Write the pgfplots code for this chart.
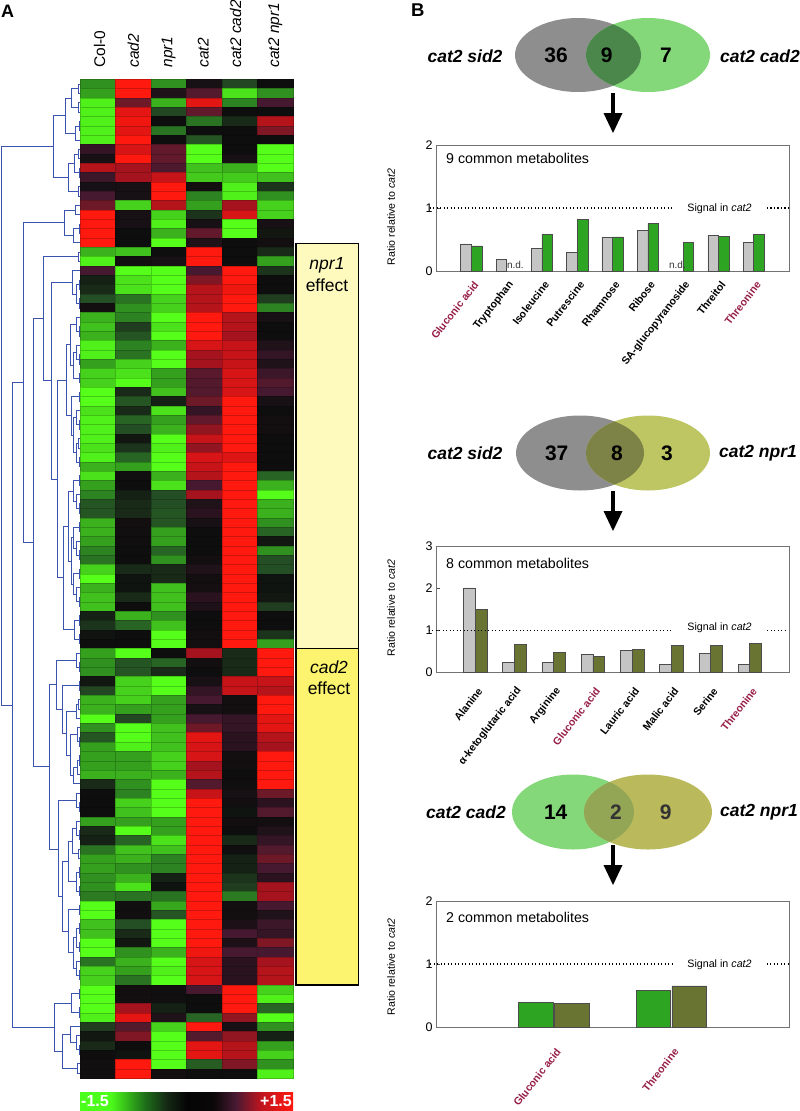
\documentclass[border=0pt]{standalone}
\usepackage{fontspec}
\setmainfont{Liberation Sans}
\usepackage{pgfplots}
\usepackage{pgfplotstable}
\pgfplotsset{compat=1.18}

\definecolor{crim}{RGB}{150,30,70}
\definecolor{dendro}{RGB}{58,84,175}
\definecolor{barg}{RGB}{197,197,197}
\definecolor{bargreen}{RGB}{45,165,35}
\definecolor{barolive}{RGB}{105,115,50}
\definecolor{vgrey}{RGB}{142,142,142}
\definecolor{vgreen}{RGB}{132,216,122}
\definecolor{volive}{RGB}{190,198,100}
\definecolor{volivetwo}{RGB}{186,186,92}
\definecolor{vmixa}{RGB}{75,135,75}
\definecolor{vmixb}{RGB}{125,130,70}
\definecolor{vmixc}{RGB}{146,166,86}
\definecolor{boxpale}{RGB}{254,250,190}
\definecolor{boxyel}{RGB}{252,243,110}

% one heat map cell: 35.5 x 9.34 px
\pgfdeclareplotmark{cell}{%
  \pgfpathrectangle{\pgfpoint{-17.75pt}{-4.67pt}}{\pgfpoint{35.5pt}{9.34pt}}%
  \pgfusepathqfillstroke}

\pgfdeclarehorizontalshading{cbar}{100bp}{%
  rgb(0bp)=(0.25,1,0.12);
  rgb(32bp)=(0.3,1,0.1);
  rgb(40bp)=(0.12,0.45,0.1);
  rgb(45.3bp)=(0.08,0.16,0.08);
  rgb(50bp)=(0.02,0.02,0.02);
  rgb(56.2bp)=(0.04,0.03,0.03);
  rgb(61.5bp)=(0.28,0.1,0.2);
  rgb(67.5bp)=(0.75,0.08,0.12);
  rgb(75bp)=(1,0.1,0.06);
  rgb(100bp)=(1,0.1,0.06)}

\pgfplotstableread{
r c0 c1 c2 c3 c4 c5
1 -0.8 1.5 -0.8 0.05 -0.3 0
2 -0.9 1.5 0.1 0.4 -1.3 -0.8
3 -1.4 0.6 -1.0 1.3 -0.7 0.3
4 -1.4 1.3 -0.3 0.5 0 0
5 -1.4 1.4 0 -0.6 -0.15 1.0
6 -1.4 1.3 -0.6 0 0 0.7
7 -1.4 1.5 0 -0.4 0 0
8 0.2 1.2 0.5 -1.5 0 -1.5
9 0.05 1.5 0.5 -1.5 0.05 -1.5
10 1.0 0.9 0.35 -1.1 -1.0 -1.5
11 0.25 0.9 1.1 -1.15 -1.15 -1.1
12 0.05 0.05 1.5 0.03 -1.4 -0.2
13 0.3 0.05 1.5 -0.7 -1.4 -0.8
14 0.6 -1.2 1.0 -0.9 0.9 -1.2
15 1.5 0.05 -1.2 -0.2 1.2 -1.2
16 1.5 0.05 -1.4 0.05 -1.5 0.05
17 1.5 0 -1.0 0.5 -1.5 -0.05
18 1.5 0 -1.5 0.1 0 0.03
19 -1.0 -1.1 0 1.5 0 -0.15
20 -1.4 0.02 0.05 1.5 0 -0.9
21 0.3 -1.5 -1.5 0.3 1.5 -0.2
22 -0.1 -1.3 -1.5 0.7 1.5 0
23 -0.15 -1.3 -1.5 1.0 1.4 0
24 -0.35 -0.6 -1.2 1.0 1.5 -0.25
25 0.03 -0.8 -1.2 1.0 1.5 -0.7
26 -1.0 -0.7 -1.5 1.5 1.0 0.05
27 -1.1 -0.25 -1.3 1.5 1.0 0
28 -1.0 -0.4 -1.5 1.5 0.9 0
29 -1.4 -0.7 -1.0 1.2 1.1 0.1
30 -1.4 -0.6 -1.5 0.9 1.1 0.2
31 -0.9 -1.2 -1.5 0.9 1.1 0.1
32 -1.2 -1.3 -0.9 0.45 1.2 0.25
33 -1.2 -1.5 -0.9 0.4 1.2 0.4
34 -1.5 -0.15 -1.1 0.4 1.2 0.3
35 -1.5 -0.4 -0.1 0.6 1.5 0.05
36 -1.3 -0.15 -1.3 0.2 1.5 0
37 -1.4 -0.5 -0.9 0.5 1.5 0.03
38 -1.4 -0.35 -1.0 0.8 1.5 0.03
39 -1.4 -0.05 -1.5 1.1 1.5 0
40 -1.3 -0.2 -1.4 0.8 1.5 0
41 -1.4 -0.5 -1.5 1.2 1.25 0
42 -1.0 -0.9 -1.5 1.1 1.5 0
43 -1.3 0.02 -1.0 1.0 1.5 -0.5
44 -0.9 0 -1.3 0.3 1.5 -1.0
45 -0.7 -0.1 -0.35 0.9 1.5 -1.5
46 -0.4 -0.15 -0.35 0.1 1.5 -1.0
47 -0.4 -0.15 -0.4 0.15 1.5 -1.0
48 -1.0 0.03 -0.4 0.05 1.5 -0.8
49 -1.0 0.02 -0.9 0 1.5 -0.5
50 -0.9 0.01 -0.9 0 1.5 -0.05
51 -0.7 0 -0.5 0 1.5 -0.8
52 -0.6 0 -0.8 0.03 1.5 -0.35
53 -1.2 -0.15 -0.15 0.1 1.5 -0.35
54 -1.5 -0.03 -0.15 0.03 1.5 -0.03
55 -1.0 -0.03 -1.1 0.04 1.5 -0.03
56 -1.1 -0.15 -1.1 0.15 1.5 -0.05
57 -1.1 0 -1.1 0.08 1.5 -0.25
58 -0.1 -1.0 -0.8 0 1.5 0
59 -0.2 -0.5 -1.1 0 1.5 0
60 -0.03 0 -1.5 0.03 1.5 -0.2
61 0 0 -1.5 0.03 1.5 -0.9
62 -0.9 -1.5 0 0.9 -0.15 1.5
63 -0.8 -0.4 -0.5 0.03 -0.15 1.5
64 -0.8 -0.4 -0.15 0 -0.15 1.5
65 -0.05 -1.2 -1.5 0.05 1.1 1.1
66 -0.3 -1.2 -1.5 0.2 1.1 1.0
67 -1.0 -1.2 -0.9 0.3 0.03 1.5
68 -1.0 -0.9 -0.9 0.05 0.03 1.5
69 -1.5 -0.3 -0.9 0.3 0.2 1.3
70 -0.8 -1.5 -1.1 0.6 0.2 1.3
71 -0.4 -1.5 -1.1 1.3 0.15 1.0
72 -0.9 -1.4 -1.1 1.2 0.15 0.9
73 -0.9 -0.9 -1.2 1.2 0.03 1.5
74 -0.9 -0.9 -1.2 0.9 0.02 1.5
75 -1.0 -1.0 -1.0 1.0 0 1.5
76 -0.15 -0.8 -1.5 0.4 0.01 1.5
77 0 -0.7 -1.5 1.1 0.05 0.6
78 0 -1.2 -1.5 1.5 0.03 0.15
79 0 -1.1 -1.5 1.5 -0.03 0.4
80 -0.9 -0.9 -0.9 1.5 0.03 0.03
81 -0.15 -1.5 -0.9 1.5 0 0.1
82 -0.1 -0.5 -1.3 1.5 -0.15 0.2
83 -0.6 -1.1 -1.1 1.5 0.01 0.4
84 -0.9 -1.0 -0.7 1.5 -0.1 0.6
85 -0.9 -0.8 -0.7 1.5 -0.1 0.3
86 -0.8 -1.0 -0.1 1.5 -0.2 0.15
87 -0.8 -1.3 -0.03 1.5 -0.25 0.9
88 -0.65 -0.6 -0.6 1.5 -0.65 0.9
89 -1.5 0.02 -0.95 1.5 0.03 0.3
90 -1.5 0.02 -0.4 1.5 0.03 0.1
91 -1.1 -0.35 -1.5 1.5 0.08 0.25
92 -1.1 -0.15 -1.5 1.5 0.3 0.2
93 -1.5 -0.05 -1.5 1.5 0.08 0.7
94 -1.5 -0.8 -1.0 1.4 0.3 0.3
95 -0.6 -1.0 -1.5 1.2 0.15 0.9
96 -1.2 -0.9 -1.4 1.2 0.15 1.0
97 -1.2 -0.6 -1.5 1.2 0.15 1.0
98 -1.5 0.03 0.02 0.3 1.5 -1.2
99 -1.5 0.03 0.02 0 1.5 -1.4
100 -1.5 0.9 -0.1 0 1.5 -0.5
101 -1.4 1.3 0.1 -0.5 0.8 -1.5
102 -0.25 0.4 -1.2 1.5 0.05 -0.8
103 -0.05 0.7 -1.5 0.4 0.8 -0.1
104 -0.15 0 -1.5 1.3 1.0 -0.9
105 0 -0.03 -1.5 1.3 1.0 -1.2
106 0.02 1.5 -1.5 -0.45 0.7 -0.8
107 0.02 1.5 0.03 0 0 -1.4
}\heat

\pgfplotsset{
  ratioaxis/.style={
    scale only axis, width=353pt, height=126pt, anchor=south west,
    clip=false, ymin=0, axis line style={draw=black!55},
    tick style={draw=black!70}, major x tick style={draw=none},
    xtick pos=lower, ytick pos=left,
    /pgf/number format/assume math mode=true,
    yticklabel style={font=\fontsize{12.5}{14}\selectfont},
    xticklabel style={font=\fontsize{10.6}{13}\selectfont\bfseries,xshift=7pt,rotate=52,anchor=east},
    ylabel={Ratio relative to \textit{cat2}},
    ylabel style={font=\fontsize{10.6}{12}\selectfont,anchor=center},
  },
  barleft/.style={ybar,bar width=#1,bar shift=-#1/2,fill=barg,draw=black!70,line width=0.6pt},
  sigline/.style={sharp plot,black,line width=1.2pt,dash pattern=on 1.3pt off 2.2pt},
}

\begin{document}
\begin{tikzpicture}
\path[use as bounding box] (0pt,0pt) rectangle (800pt,-1111pt);
% heat map
\begin{axis}[name=heat,scale only axis,width=213pt,height=999pt,at={(80pt,-1078pt)},anchor=south west,
  xmin=0,xmax=6,ymin=0,ymax=107,y dir=reverse,
  axis line style={draw=none},tick style={draw=none},ytick=\empty,
  xtick={0.55,1.5,2.5,3.47,4.38,5.5},xticklabel pos=upper,xticklabel shift=8pt,
  xticklabels={Col-0,\textit{cad2},\textit{npr1},\textit{cat2},\textit{cat2 cad2},\textit{cat2 npr1}},
  xticklabel style={rotate=90,anchor=west,font=\fontsize{15.5}{18}\selectfont},
  point meta min=-1.5,point meta max=1.5,
  colormap={hm}{rgb255=(85,255,25) rgb255=(70,210,28) rgb255=(52,160,30) rgb255=(42,115,35) rgb255=(35,70,35) rgb255=(14,14,14) rgb255=(70,25,48) rgb255=(110,25,40) rgb255=(165,20,30) rgb255=(215,20,22) rgb255=(255,25,15)},
]
\pgfplotsinvokeforeach{0,...,5}{
  \addplot[scatter,only marks,mark=cell,scatter src=explicit,mark options={line width=0.15pt}]
    table[x expr={#1+0.5},y expr={\thisrow{r}-0.5},meta=c#1]{\heat};
}
\end{axis}

% dendrogram, in picture pixels
\begin{axis}[scale only axis,width=80pt,height=999pt,at={(0pt,-1078pt)},anchor=south west,
  xmin=0,xmax=80,ymin=79,ymax=1078,y dir=reverse,hide axis,clip=false]
\addplot[dendro,line width=1pt,unbounded coords=jump,mark=none] coordinates {
(80,84)(78,84)(78,93.3)(80,93.3)(nan,nan)
(80,102.7)(78,102.7)(78,112)(80,112)(nan,nan)
(78,88.7)(71,88.7)(71,107.4)(78,107.4)(nan,nan)
(80,121.3)(79,121.3)(79,130.7)(80,130.7)(nan,nan)
(79,126)(75,126)(75,140)(80,140)(nan,nan)
(71,98)(65,98)(65,133)(75,133)(nan,nan)
(80,149.3)(78,149.3)(78,158.7)(80,158.7)(nan,nan)
(80,168)(79,168)(79,177.3)(80,177.3)(nan,nan)
(78,154)(74,154)(74,172.7)(79,172.7)(nan,nan)
(80,186.7)(78,186.7)(78,196)(80,196)(nan,nan)
(74,163.3)(68,163.3)(68,191.3)(78,191.3)(nan,nan)
(65,115.5)(53.5,115.5)(53.5,177.3)(68,177.3)(nan,nan)
(53.5,146.4)(1,146.4)(1,705.3)(12.5,705.3)(nan,nan)
(80,205.3)(75,205.3)(75,214.6)(80,214.6)(nan,nan)
(80,224)(79,224)(79,233.3)(80,233.3)(nan,nan)
(79,228.7)(73,228.7)(73,242.6)(80,242.6)(nan,nan)
(75,210)(64,210)(64,235.6)(73,235.6)(nan,nan)
(80,252)(78,252)(78,261.3)(80,261.3)(nan,nan)
(80,280)(79,280)(79,289.3)(80,289.3)(nan,nan)
(80,298.6)(79,298.6)(79,308)(80,308)(nan,nan)
(79,284.7)(76,284.7)(76,303.3)(79,303.3)(nan,nan)
(80,270.6)(72.7,270.6)(72.7,294)(76,294)(nan,nan)
(80,326.6)(79,326.6)(79,336)(80,336)(nan,nan)
(80,317.3)(76,317.3)(76,331.3)(79,331.3)(nan,nan)
(80,354.6)(79,354.6)(79,364)(80,364)(nan,nan)
(80,345.3)(76,345.3)(76,359.3)(79,359.3)(nan,nan)
(80,373.3)(79,373.3)(79,382.7)(80,382.7)(nan,nan)
(76,352.3)(73,352.3)(73,378)(79,378)(nan,nan)
(76,324.3)(70,324.3)(70,365.2)(73,365.2)(nan,nan)
(80,392)(79,392)(79,401.3)(80,401.3)(nan,nan)
(80,420)(79,420)(79,429.3)(80,429.3)(nan,nan)
(80,410.6)(76,410.6)(76,424.7)(79,424.7)(nan,nan)
(80,438.6)(78,438.6)(78,448)(80,448)(nan,nan)
(80,457.3)(79,457.3)(79,466.7)(80,466.7)(nan,nan)
(78,443.3)(76,443.3)(76,462)(79,462)(nan,nan)
(76,417.6)(73,417.6)(73,452.7)(76,452.7)(nan,nan)
(79,396.7)(71,396.7)(71,435.1)(73,435.1)(nan,nan)
(70,344.8)(66,344.8)(66,415.9)(71,415.9)(nan,nan)
(80,475.9)(79,475.9)(79,485.2)(80,485.2)(nan,nan)
(80,503.9)(79,503.9)(79,513.2)(80,513.2)(nan,nan)
(80,494.6)(76,494.6)(76,508.6)(79,508.6)(nan,nan)
(79,480.5)(73,480.5)(73,501.6)(76,501.6)(nan,nan)
(80,522.5)(79,522.5)(79,531.9)(80,531.9)(nan,nan)
(80,550.5)(79,550.5)(79,559.9)(80,559.9)(nan,nan)
(80,541.2)(76,541.2)(76,555.2)(79,555.2)(nan,nan)
(79,527.2)(73,527.2)(73,548.2)(76,548.2)(nan,nan)
(80,569.2)(79,569.2)(79,578.5)(80,578.5)(nan,nan)
(80,597.2)(79,597.2)(79,606.5)(80,606.5)(nan,nan)
(80,587.8)(76,587.8)(76,601.8)(79,601.8)(nan,nan)
(79,573.9)(73,573.9)(73,594.8)(76,594.8)(nan,nan)
(73,537.7)(71.7,537.7)(71.7,584.4)(73,584.4)(nan,nan)
(73,491)(68,491)(68,561)(71.7,561)(nan,nan)
(80,615.8)(79,615.8)(79,625.2)(80,625.2)(nan,nan)
(80,634.5)(79,634.5)(79,643.8)(80,643.8)(nan,nan)
(79,620.5)(74.7,620.5)(74.7,639.2)(79,639.2)(nan,nan)
(68,526)(63,526)(63,629.8)(74.7,629.8)(nan,nan)
(66,380.4)(57,380.4)(57,577.9)(63,577.9)(nan,nan)
(72.7,282.3)(51,282.3)(51,479.2)(57,479.2)(nan,nan)
(78,256.7)(43,256.7)(43,380.7)(51,380.7)(nan,nan)
(43,318.7)(33,318.7)(33,766.8)(49,766.8)(nan,nan)
(64,222.8)(23,222.8)(23,542.7)(33,542.7)(nan,nan)
(23,382.7)(12.5,382.7)(12.5,1027.8)(54.7,1027.8)(nan,nan)
(80,662.5)(79,662.5)(79,671.8)(80,671.8)(nan,nan)
(80,653.1)(76,653.1)(76,667)(79,667)(nan,nan)
(80,681.1)(79,681.1)(79,690.5)(80,690.5)(nan,nan)
(80,699.8)(78,699.8)(78,709.1)(80,709.1)(nan,nan)
(78,704.5)(76,704.5)(76,718.5)(80,718.5)(nan,nan)
(80,737.1)(79,737.1)(79,746.5)(80,746.5)(nan,nan)
(80,727.8)(77,727.8)(77,741.8)(79,741.8)(nan,nan)
(80,755.8)(79,755.8)(79,765.1)(80,765.1)(nan,nan)
(79,760.5)(77,760.5)(77,774.5)(80,774.5)(nan,nan)
(77,767.5)(73.5,767.5)(73.5,783.8)(80,783.8)(nan,nan)
(77,734.8)(70.7,734.8)(70.7,775.7)(73.5,775.7)(nan,nan)
(76,711.5)(66.7,711.5)(66.7,755)(70.7,755)(nan,nan)
(79,685.8)(62,685.8)(62,733)(66.7,733)(nan,nan)
(76,660)(56,660)(56,709.4)(62,709.4)(nan,nan)
(56,684.7)(49,684.7)(49,849)(58.5,849)(nan,nan)
(80,802.4)(79,802.4)(79,811.8)(80,811.8)(nan,nan)
(80,793.1)(76.5,793.1)(76.5,807)(79,807)(nan,nan)
(76.5,800)(58.5,800)(58.5,896.7)(62.7,896.7)(nan,nan)
(80,830.4)(79,830.4)(79,839.8)(80,839.8)(nan,nan)
(80,821.1)(76,821.1)(76,835)(79,835)(nan,nan)
(80,849.1)(78,849.1)(78,858.4)(80,858.4)(nan,nan)
(76,828)(72,828)(72,853.8)(78,853.8)(nan,nan)
(80,867.8)(79,867.8)(79,877.1)(80,877.1)(nan,nan)
(80,886.4)(79,886.4)(79,895.8)(80,895.8)(nan,nan)
(79,872.4)(76,872.4)(76,891)(79,891)(nan,nan)
(72,841)(68,841)(68,881.8)(76,881.8)(nan,nan)
(80,905.1)(79,905.1)(79,914.4)(80,914.4)(nan,nan)
(80,923.7)(79,923.7)(79,933.1)(80,933.1)(nan,nan)
(80,942.4)(79,942.4)(79,951.7)(80,951.7)(nan,nan)
(79,928.4)(76,928.4)(76,947)(79,947)(nan,nan)
(80,970.4)(79,970.4)(79,979.7)(80,979.7)(nan,nan)
(80,961.1)(76,961.1)(76,975)(79,975)(nan,nan)
(76,937.7)(73,937.7)(73,968)(76,968)(nan,nan)
(79,909.8)(68,909.8)(68,952.9)(73,952.9)(nan,nan)
(68,861.5)(62.7,861.5)(62.7,931)(68,931)(nan,nan)
(80,989)(79,989)(79,998.4)(80,998.4)(nan,nan)
(80,1007.7)(79,1007.7)(79,1017)(80,1017)(nan,nan)
(79,993.7)(71.7,993.7)(71.7,1012.4)(79,1012.4)(nan,nan)
(80,1045)(79,1045)(79,1054.4)(80,1054.4)(nan,nan)
(80,1035.7)(76,1035.7)(76,1049.7)(79,1049.7)(nan,nan)
(80,1026.4)(70,1026.4)(70,1042.7)(76,1042.7)(nan,nan)
(80,1063.7)(77,1063.7)(77,1073)(80,1073)(nan,nan)
(70,1034.5)(62.7,1034.5)(62.7,1068.4)(77,1068.4)(nan,nan)
(71.7,1003)(54.7,1003)(54.7,1051.5)(62.7,1051.5)(nan,nan)
};
\end{axis}

% bar chart 1
\begin{axis}[ratioaxis,at={(436pt,-271pt)},xmin=0,xmax=10,ymax=2,ytick={0,1,2},
  xtick={1,...,9},xticklabel shift=9pt,
  xticklabels={\textcolor{crim}{Gluconic acid},Tryptophan,Isoleucine,Putrescine,Rhamnose,Ribose,SA-glucopyranoside,Threitol,\textcolor{crim}{Threonine}},
  ylabel style={at={(axis description cs:-0.1275,0.43)}}]
\addplot[barleft=10.6pt] coordinates {(1,0.43)(2,0.18)(3,0.365)(4,0.29)(5,0.53)(6,0.645)(8,0.56)(9,0.455)};
\addplot[ybar,bar width=10.6pt,bar shift=5.3pt,fill=bargreen,draw=black!70,line width=0.6pt] coordinates {(1,0.40)(3,0.577)(4,0.815)(5,0.54)(6,0.757)(7,0.45)(8,0.55)(9,0.587)};
\addplot[sigline] coordinates {(-0.18,1)(6.7,1)};
\addplot[sigline] coordinates {(9.37,1)(10,1)};
\node[font=\fontsize{10}{12}\selectfont,text=black!80] at (axis cs:2.25,0.1) {n.d.};
\node[font=\fontsize{10}{12}\selectfont,text=black!80] at (axis cs:6.84,0.1) {n.d.};
\end{axis}

% bar chart 2
\begin{axis}[ratioaxis,at={(436pt,-672.3pt)},xmin=0,xmax=9,ymax=3,ytick={0,1,2,3},
  xtick={1,...,8},xticklabel shift=14pt,
  xticklabels={Alanine,α-ketoglutaric acid,Arginine,\textcolor{crim}{Gluconic acid},Lauric acid,Malic  acid,Serine,\textcolor{crim}{Threonine}},
  ylabel style={at={(axis description cs:-0.1275,0.51)}}]
\addplot[barleft=11.7pt] coordinates {(1,2.01)(2,0.24)(3,0.24)(4,0.43)(5,0.52)(6,0.19)(7,0.45)(8,0.19)};
\addplot[ybar,bar width=11.7pt,bar shift=5.85pt,fill=barolive,draw=black!70,line width=0.6pt] coordinates {(1,1.49)(2,0.66)(3,0.475)(4,0.38)(5,0.546)(6,0.64)(7,0.65)(8,0.69)};
\addplot[sigline] coordinates {(-0.19,1)(6.04,1)};
\addplot[sigline] coordinates {(8.44,1)(8.96,1)};
\end{axis}

% bar chart 3
\begin{axis}[ratioaxis,at={(436pt,-1027pt)},xmin=0,xmax=3,ymax=2,ytick={0,1,2},
  xtick={1,2},xticklabel shift=20pt,
  xticklabels={\textcolor{crim}{Gluconic acid},\textcolor{crim}{Threonine}},
  ylabel style={at={(axis description cs:-0.1275,0.477)}}]
\addplot[ybar,bar width=34.5pt,bar shift=-17.9pt,fill=bargreen,draw=black!70,line width=0.6pt] coordinates {(1,0.39)(2,0.584)};
\addplot[ybar,bar width=34.5pt,bar shift=17.9pt,fill=barolive,draw=black!70,line width=0.6pt] coordinates {(1,0.377)(2,0.652)};
\addplot[sigline] coordinates {(-0.05,1)(2.01,1)};
\addplot[sigline] coordinates {(2.81,1)(3,1)};
\end{axis}

% annotations, in picture pixels with y going down
\begin{scope}[x=1pt,y=-1pt]
\node[anchor=west,font=\fontsize{18}{20}\selectfont\bfseries,inner sep=0pt] at (1,11) {A};
\node[anchor=west,font=\fontsize{18.5}{20}\selectfont\bfseries,inner sep=0pt] at (411,10.5) {B};

% effect boxes
\draw[fill=boxpale,line width=1.6pt] (295.7,243.3) rectangle (358.3,648.3);
\draw[fill=boxyel,line width=1.6pt] (295.7,648.3) rectangle (358.3,985);
\node[font=\fontsize{17.5}{20}\selectfont] at (327,265) {\textit{npr1}};
\node[font=\fontsize{17.5}{20}\selectfont] at (327,285.5) {effect};
\node[font=\fontsize{17.5}{20}\selectfont] at (329,667) {\textit{cad2}};
\node[font=\fontsize{17.5}{20}\selectfont] at (329,688) {effect};

% colour key
\path[shading=cbar] (80,1092) rectangle (293,1111);
\node[text=white,font=\fontsize{16}{18}\selectfont\bfseries,anchor=west,inner sep=0pt] at (81,1101.5) {-1.5};
\node[text=white,font=\fontsize{16}{18}\selectfont\bfseries,anchor=east,inner sep=0pt] at (292,1101.5) {+1.5};

% Venn 1
\fill[vgrey] (578,55) ellipse [x radius=63pt,y radius=37pt];
\fill[vgreen] (648,55) ellipse [x radius=62pt,y radius=37pt];
\begin{scope}
\clip (578,55) ellipse [x radius=63pt,y radius=37pt];
\fill[vmixa] (648,55) ellipse [x radius=62pt,y radius=37pt];
\end{scope}
% Venn 2
\fill[vgrey] (580,453) ellipse [x radius=64pt,y radius=37.5pt];
\fill[volive] (648,453) ellipse [x radius=62pt,y radius=37.5pt];
\begin{scope}
\clip (580,453) ellipse [x radius=64pt,y radius=37.5pt];
\fill[vmixb] (648,453) ellipse [x radius=62pt,y radius=37.5pt];
\end{scope}
% Venn 3
\fill[vgreen] (573,812) ellipse [x radius=61pt,y radius=37.5pt];
\fill[volivetwo] (648,812) ellipse [x radius=64pt,y radius=37.5pt];
\begin{scope}
\clip (573,812) ellipse [x radius=61pt,y radius=37.5pt];
\fill[vmixc] (648,812) ellipse [x radius=64pt,y radius=37.5pt];
\end{scope}

\tikzset{vname/.style={font=\fontsize{17.5}{20}\selectfont\bfseries\itshape},
  vnum/.style={font=\fontsize{21}{24}\selectfont\bfseries}}
\node[vname] at (465,56) {cat2 sid2};
\node[vname] at (760,56) {cat2 cad2};
\node[vnum] at (556,55.5) {36};
\node[vnum] at (606.7,55.5) {9};
\node[vnum] at (666,55.5) {7};
\node[vname] at (465,453.5) {cat2 sid2};
\node[vname] at (758,453.5) {cat2 npr1};
\node[vnum] at (556.7,453) {37};
\node[vnum] at (617,453) {8};
\node[vnum] at (667,453) {3};
\node[vname] at (466,812.5) {cat2 cad2};
\node[vname] at (759,812.5) {cat2 npr1};
\node[vnum] at (555.7,812) {14};
\node[vnum,text=black!80] at (616,812) {2};
\node[vnum,text=black!80] at (665.7,812) {9};

% arrows
\foreach \ya in {93,491,845}{
  \fill (611,\ya) rectangle (615,\ya+21);
  \fill (603.5,\ya+20) -- (622.5,\ya+20) -- (613,\ya+40) -- cycle;
}

% chart captions
\tikzset{chartcap/.style={anchor=west,inner sep=0pt,font=\fontsize{14.2}{16}\selectfont},
  sigtext/.style={font=\fontsize{10.7}{12}\selectfont}}
\node[chartcap] at (446,158) {9 common metabolites};
\node[chartcap] at (446,563) {8 common metabolites};
\node[chartcap] at (446,917) {2 common metabolites};
\node[sigtext] at (719.5,208.5) {Signal in \textit{cat2}};
\node[sigtext] at (719.5,628) {Signal in \textit{cat2}};
\node[sigtext] at (719.5,965) {Signal in \textit{cat2}};
\end{scope}
\end{tikzpicture}
\end{document}
